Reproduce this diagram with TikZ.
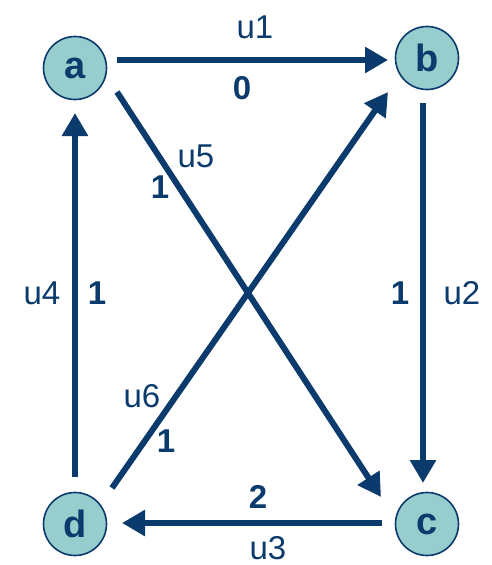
\documentclass[tikz,border=0pt]{standalone}
\usepackage{fontspec}
\setmainfont{Liberation Sans}
\usetikzlibrary{arrows.meta,calc}
\definecolor{navy}{HTML}{0B3A6C}
\definecolor{teal}{HTML}{97CDCD}
\begin{document}
\begin{tikzpicture}[x=1pt,y=-1pt,
  vertex/.style={circle,draw=navy,line width=1.6pt,fill=teal,minimum size=63pt,inner sep=0pt,
    text=navy,font=\fontsize{38}{40}\selectfont\bfseries},
  edge/.style={draw=navy,line width=6pt,-{Triangle[length=23pt,width=25pt]}},
  lab/.style={text=navy,font=\fontsize{33}{36}\selectfont,inner sep=0pt},
  wt/.style={text=navy,font=\fontsize{33}{36}\selectfont\bfseries,inner sep=0pt}]
\useasboundingbox (0,0) rectangle (492,565);
\node[vertex] (a) at (75,68) {a};
\node[vertex] (b) at (427,58) {b};
\node[vertex] (c) at (427,524) {c};
\node[vertex] (d) at (75,524) {d};
% a -> b
\draw[edge] ($(a)+(42,-8)$) -- ($(b)+(-39,2)$);
% b -> c
\draw[edge] ($(b)+(-4,45)$) -- ($(c)+(-4,-41)$);
% c -> d
\draw[edge] ($(c)+(-45,-1)$) -- ($(d)+(47,-1)$);
% d -> a
\draw[edge] ($(d)+(0,-47)$) -- ($(a)+(0,45)$);
% a -> c
\draw[edge] ($(a)+(42,24)$) -- ($(c)+(-46,-27)$);
% d -> b
\draw[edge] ($(d)+(37,-36)$) -- ($(b)+(-39,34)$);
% labels
\node[lab] (l1) at (255,27) {u1};
\node[wt]  (w1) at (242,88) {0};
\node[lab] (l2) at (462,293) {u2};
\node[wt]  (w2) at (400,293) {1};
\node[wt]  (w3) at (258,497) {2};
\node[lab] (l3) at (268,548) {u3};
\node[lab] (l4) at (42,293) {u4};
\node[wt]  (w4) at (97,293) {1};
\node[lab] (l5) at (196,156) {u5};
\node[wt]  (w5) at (160,187) {1};
\node[lab] (l6) at (142,396) {u6};
\node[wt]  (w6) at (166,441) {1};
\end{tikzpicture}
\end{document}
